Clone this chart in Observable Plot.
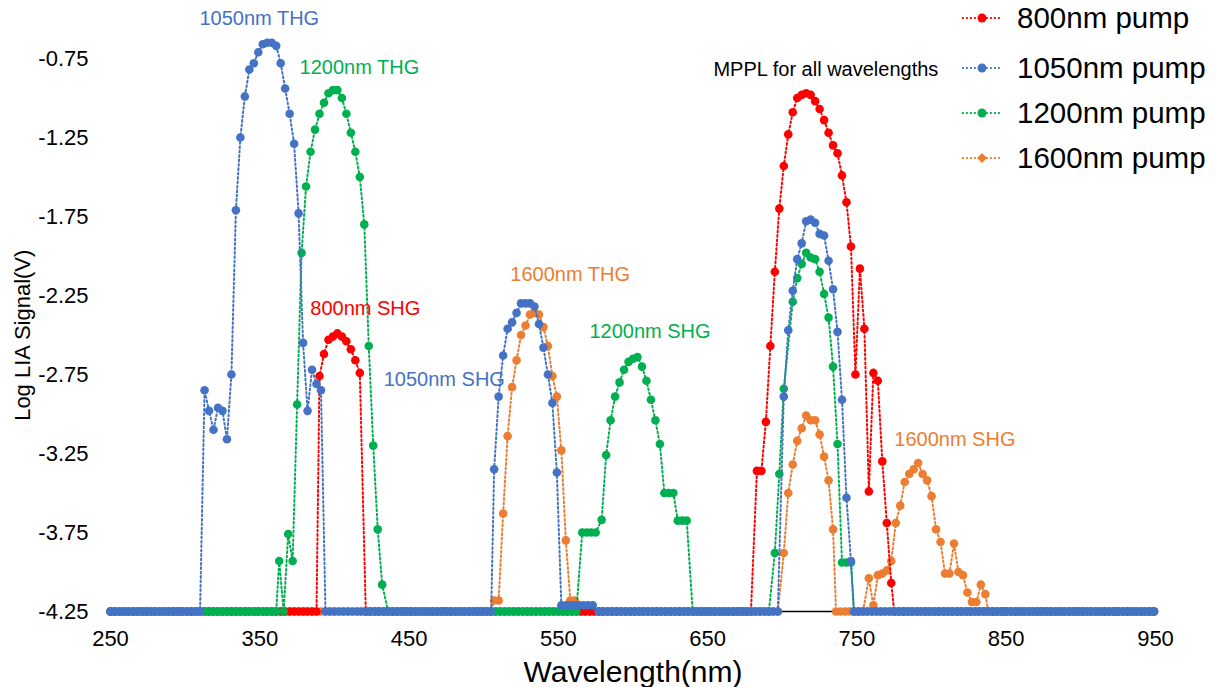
<!DOCTYPE html>
<html><head><meta charset="utf-8">
<script src="https://cdn.jsdelivr.net/npm/d3@7"></script>
<script src="https://cdn.jsdelivr.net/npm/@observablehq/plot@0.6"></script>
<style>
body{margin:0;background:#fff;font-family:"Liberation Sans",Arial,Helvetica,sans-serif;}
#wrap{position:relative;width:1216px;height:687px;overflow:hidden;}
#legend{position:absolute;left:0;top:0;}
.item{position:absolute;left:958px;height:36px;display:flex;align-items:center;white-space:nowrap;font-size:29.5px;color:#000;}
.item svg{margin-right:11px;}
</style></head><body>
<div id="wrap"><div id="chart"></div><div id="legend"></div></div>
<script>
// ---- axis ticks ----
const xTicks = [250,350,450,550,650,750,850,950];
const yTicks = [-0.75,-1.25,-1.75,-2.25,-2.75,-3.25,-3.75,-4.25];
const floorValue = -4.25;            // noise floor read on the chart
const scanStart = 250, scanEnd = 950, scanStep = 3;  // scan grid (nm)

// ---- series ----
const seriesNames  = ["800nm pump","1050nm pump","1200nm pump","1600nm pump"];
const seriesColors = ["#FF0000","#4472C4","#00B050","#ED7D31"];

// 800nm pump
const red_SHG_wl  = [390,393,396,399,402,405,408,411,414,417];
const red_SHG_val = [-2.76,-2.62,-2.53,-2.51,-2.49,-2.51,-2.54,-2.59,-2.66,-2.74];
const red_MPPL_wl  = [683,686,689,692,695,698,701,704,707,710,713,716,719,722,725,728,731,734,737,740,743,746,749,752,755,758,761,764,767,770,773];
const red_MPPL_val = [-3.36,-3.36,-3.05,-2.57,-2.10,-1.70,-1.43,-1.23,-1.09,-1.00,-0.98,-0.97,-0.98,-1.02,-1.07,-1.14,-1.22,-1.30,-1.35,-1.49,-1.66,-1.94,-2.75,-2.08,-2.46,-3.49,-2.74,-2.79,-3.30,-3.69,-4.07];

// 1050nm pump
const blue_THG_wl  = [313,316,319,322,325,328,331,334,337,340,343,346,349,352,355,358,361,364,367,370,373,376,379,382,385,388,391];
const blue_THG_val = [-2.85,-2.98,-3.10,-2.96,-2.98,-3.16,-2.75,-1.71,-1.25,-0.99,-0.82,-0.78,-0.71,-0.66,-0.65,-0.65,-0.67,-0.78,-0.94,-1.10,-1.29,-1.73,-2.55,-2.98,-2.72,-2.81,-2.85];
const blue_SHG_wl  = [507,510,513,516,519,522,525,528,531,534,537,540,543,546,549,552,555,558,561,564,567,570,573];
const blue_SHG_val = [-3.35,-2.89,-2.63,-2.46,-2.42,-2.36,-2.30,-2.30,-2.30,-2.32,-2.43,-2.58,-2.75,-2.93,-3.37,-4.21,-4.21,-4.21,-4.21,-4.21,-4.21,-4.21,-4.21];
const blue_MPPL_wl  = [701,704,707,710,713,716,719,722,725,728,731,734,737,740,743,746];
const blue_MPPL_val = [-2.89,-2.47,-2.22,-2.02,-1.92,-1.78,-1.77,-1.79,-1.86,-1.87,-2.03,-2.21,-2.48,-2.91,-3.53,-3.93];

// 1200nm pump
const green_THG_wl  = [363,366,369,372,375,378,381,384,387,390,393,396,399,402,405,408,411,414,417,420,423,426,429,432];
const green_THG_val = [-3.93,-4.25,-3.76,-3.93,-2.94,-1.98,-1.56,-1.34,-1.20,-1.10,-1.03,-0.97,-0.95,-0.95,-1.00,-1.10,-1.22,-1.34,-1.50,-1.80,-2.57,-3.20,-3.73,-4.08];
const green_SHG_wl  = [566,569,572,575,579,582,585,588,591,594,597,600,603,606,609,612,615,618,621,624,627,630,633,636];
const green_SHG_val = [-3.75,-3.75,-3.75,-3.75,-3.67,-3.26,-3.04,-2.89,-2.80,-2.72,-2.67,-2.65,-2.64,-2.70,-2.79,-2.91,-3.04,-3.19,-3.50,-3.50,-3.50,-3.675,-3.675,-3.675];
const green_MPPL_wl  = [695,698,701,707,710,713,716,719,722,725,728,731,734,737,740,743,746];
const green_MPPL_val = [-3.88,-3.38,-2.84,-2.29,-2.14,-2.05,-1.98,-2.01,-2.02,-2.10,-2.24,-2.39,-2.70,-3.19,-3.94,-3.94,-3.94];

// 1600nm pump
const orange_THG_wl  = [507,510,513,516,519,522,525,528,531,534,537,540,543,546,549,552,555,558,561];
const orange_THG_val = [-4.18,-4.18,-3.63,-3.14,-2.83,-2.66,-2.50,-2.44,-2.37,-2.36,-2.37,-2.45,-2.57,-2.76,-2.89,-3.23,-3.80,-4.18,-4.18];
const orange_MPPL_wl  = [701,704,707,710,713,716,719,722,725,728,731,734];
const orange_MPPL_val = [-3.88,-3.50,-3.32,-3.17,-3.09,-3.01,-3.04,-3.04,-3.13,-3.27,-3.42,-3.73];
const orange_SHG_wl  = [758,761,764,767,770,773,776,779,782,785,788,791,794,797,800,803,806,809,812,815,818,821,824,827,830,833,836];
const orange_SHG_val = [-4.04,-4.21,-4.02,-4.01,-3.99,-3.93,-3.69,-3.58,-3.43,-3.38,-3.35,-3.31,-3.38,-3.42,-3.52,-3.73,-3.81,-4.01,-4.01,-3.82,-4.00,-4.02,-4.13,-4.19,-4.19,-4.08,-4.14];

// ---- annotations ----
const annotText   = ["1050nm THG","1200nm THG","800nm SHG","1050nm SHG","1600nm THG","1200nm SHG","MPPL for all wavelengths","1600nm SHG"];
const annotX      = [349.7,416.7,420.7,473.6,557.9,611.4,729.2,815.6];
const annotY      = [-0.50,-0.81,-2.33,-2.78,-2.12,-2.48,-0.82,-3.16];
const annotSeries = [1,2,0,1,3,2,-1,3];

// ---- build ----
function buildSeries(idx, segments){
  const pts = [];
  for (const [wl, val] of segments) wl.forEach((w,i)=>pts.push({s:idx, x:w, y:val[i]}));
  const ranges = segments.map(([wl])=>[d3.min(wl)-1.5, d3.max(wl)+1.5]);
  for (const f of d3.range(scanStart, scanEnd+0.01, scanStep)){
    if (!ranges.some(([a,b])=>f>=a && f<=b)) pts.push({s:idx, x:f, y:floorValue});
  }
  return pts.sort((a,b)=>a.x-b.x);
}
const series = [
  buildSeries(0, [[red_SHG_wl,red_SHG_val],[red_MPPL_wl,red_MPPL_val]]),
  buildSeries(1, [[blue_THG_wl,blue_THG_val],[blue_SHG_wl,blue_SHG_val],[blue_MPPL_wl,blue_MPPL_val]]),
  buildSeries(2, [[green_THG_wl,green_THG_val],[green_SHG_wl,green_SHG_val],[green_MPPL_wl,green_MPPL_val]]),
  buildSeries(3, [[orange_THG_wl,orange_THG_val],[orange_MPPL_wl,orange_MPPL_val],[orange_SHG_wl,orange_SHG_val]])
];
const drawOrder = [3,0,2,1];

const marks = [Plot.ruleY([floorValue], {stroke:"#000", strokeWidth:1.5})];
for (const i of drawOrder){
  marks.push(Plot.line(series[i], {x:"x", y:"y", stroke:seriesColors[i], strokeWidth:2, strokeDasharray:"1.8,2.6"}));
  marks.push(Plot.dot(series[i], {x:"x", y:"y", r:4.3, fill:seriesColors[i], stroke:"none"}));
}
const annots = annotText.map((t,i)=>({t, x:annotX[i], y:annotY[i], c: annotSeries[i] < 0 ? "#000" : seriesColors[annotSeries[i]], fs: 20}));
marks.push(Plot.text(annots, {x:"x", y:"y", text:"t", fill:d=>d.c, fontSize:d=>d.fs}));
marks.push(Plot.axisX({ticks:xTicks, tickSize:0, tickPadding:19, fontSize:22, label:null, tickFormat:d=>String(d)}));
marks.push(Plot.axisY({ticks:yTicks, tickSize:0, tickPadding:22, fontSize:22, label:null, tickFormat:d=>d.toFixed(2)}));
marks.push(Plot.text(["Log LIA Signal(V)"], {frameAnchor:"left", textAnchor:"middle", lineAnchor:"middle", dx:-88, dy:20, rotate:-90, fontSize:22, fill:"#000"}));
marks.push(Plot.text(["Wavelength(nm)"], {frameAnchor:"bottom", textAnchor:"middle", lineAnchor:"middle", dy:61, fontSize:30, fill:"#000"}));

const chart = Plot.plot({
  width:1216, height:687,
  marginLeft:110, marginRight:61, marginTop:18.5, marginBottom:76,
  style:{fontFamily:'"Liberation Sans", Arial, Helvetica, sans-serif', fontSize:"22px", color:"#000", background:"#fff", overflow:"visible"},
  x:{domain:[scanStart, scanEnd]},
  y:{domain:[-4.25,-0.5]},
  marks
});
document.getElementById("chart").appendChild(chart);

// ---- legend ----
const legendTop = [18,68,113,158];
const lg = document.getElementById("legend");
seriesNames.forEach((n,i)=>{
  const d = document.createElement("div");
  d.className="item"; d.style.top=(legendTop[i]-18)+"px";
  const c = seriesColors[i];
  const sym = i===3
    ? `<path d="M24,5 L29,10 L24,15 L19,10 Z" fill="${c}"/>`
    : `<circle cx="24" cy="10" r="4.5" fill="${c}"/>`;
  d.innerHTML = `<svg width="48" height="20"><line x1="4" x2="44" y1="10" y2="10" stroke="${c}" stroke-width="2" stroke-dasharray="1.8,2.2"/>${sym}</svg><span>${n}</span>`;
  lg.appendChild(d);
});
</script>
</body></html>
